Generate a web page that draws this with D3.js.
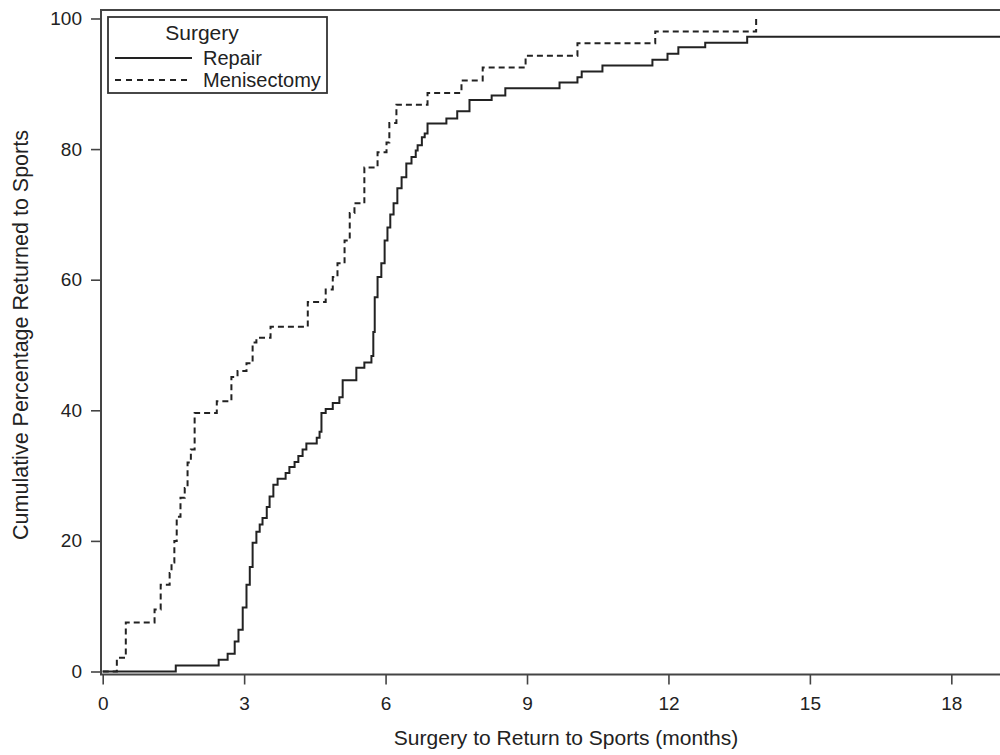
<!DOCTYPE html>
<html>
<head>
<meta charset="utf-8">
<script src="https://cdn.jsdelivr.net/npm/d3@7"></script>
<style>
  body { margin: 0; background: #fff; }
  svg { display: block; font-family: "Liberation Sans", Arial, sans-serif; }
</style>
</head>
<body>
<svg id="chart"></svg>
<script>
const width = 1000;
const height = 755;

// months after surgery, cumulative % returned (step points)
const repairMonths = [0, 1.55, 2.46, 2.65, 2.80, 2.88, 2.97, 3.05, 3.12, 3.18, 3.26, 3.33, 3.39, 3.48, 3.54, 3.62, 3.71, 3.88, 3.96, 4.07, 4.15, 4.24, 4.32, 4.54, 4.60, 4.64, 4.73, 4.88, 5.02, 5.09, 5.38, 5.55, 5.70, 5.74, 5.77, 5.83, 5.91, 5.98, 6.04, 6.10, 6.17, 6.25, 6.34, 6.44, 6.55, 6.64, 6.68, 6.77, 6.83, 6.89, 7.29, 7.52, 7.78, 8.25, 8.54, 9.69, 10.07, 10.16, 10.60, 11.66, 11.98, 12.21, 12.78, 13.67];
const repairPct = [0, 0.9, 1.8, 2.7, 4.6, 6.4, 9.8, 13.3, 16, 19.7, 21.4, 22.5, 23.5, 25.2, 26.8, 28.6, 29.5, 30.4, 31.3, 32.1, 33, 34, 34.9, 35.8, 36.7, 39.6, 40.2, 41.1, 42.0, 44.6, 46.5, 47.3, 48.3, 52, 57.3, 60.4, 62.5, 66, 68, 70, 71.7, 74, 75.7, 77.8, 78.8, 79.8, 80.6, 81.8, 82.4, 83.9, 84.7, 85.8, 87.5, 88.2, 89.3, 90.2, 91, 91.9, 92.8, 93.7, 94.6, 95.6, 96.3, 97.2];

const menMonths = [0, 0.30, 0.49, 1.10, 1.23, 1.42, 1.46, 1.52, 1.57, 1.65, 1.74, 1.80, 1.87, 1.95, 2.42, 2.73, 2.86, 3.05, 3.18, 3.26, 3.56, 4.35, 4.73, 4.88, 4.98, 5.13, 5.24, 5.34, 5.55, 5.83, 6.02, 6.08, 6.23, 6.89, 7.61, 8.06, 8.97, 10.07, 11.72, 13.86];
const menPct = [0, 2.1, 7.5, 9.5, 13.3, 15.1, 16.7, 20, 23.7, 26.6, 28.1, 32, 34, 39.6, 41.4, 45.1, 46, 47.2, 50.4, 51.1, 52.8, 56.6, 58.5, 60.4, 62.5, 66, 70.2, 71.7, 77.2, 79.5, 81, 84, 86.8, 88.6, 90.5, 92.5, 94.3, 96.2, 98.0, 100];

const xTicks = [0, 3, 6, 9, 12, 15, 18];
const yTicks = [0, 20, 40, 60, 80, 100];
const seriesNames = ["Repair", "Menisectomy"];
const legendTitle = "Surgery";
const xTitle = "Surgery to Return to Sports (months)";
const yTitle = "Cumulative Percentage Returned to Sports";

const frame = {left: 101, top: 10, right: 1031, bottom: 674.5};

const x = d3.scaleLinear().domain([-0.036, 19.69]).range([frame.left, frame.right]);
const y = d3.scaleLinear().domain([-0.46, 101.3]).range([frame.bottom, frame.top]);

const svg = d3.select("#chart")
  .attr("width", width)
  .attr("height", height)
  .attr("viewBox", [0, 0, width, height]);

const ink = "#222";

// axes
const xAxis = svg.append("g")
  .attr("transform", `translate(0,${frame.bottom})`)
  .call(d3.axisBottom(x).tickValues(xTicks).tickSize(10).tickPadding(12).tickFormat(d3.format("d")));
const yAxis = svg.append("g")
  .attr("transform", `translate(${frame.left},0)`)
  .call(d3.axisLeft(y).tickValues(yTicks).tickSize(10).tickPadding(9).tickFormat(d3.format("d")));

[xAxis, yAxis].forEach(a => {
  a.select(".domain").remove();
  a.selectAll(".tick line").attr("stroke", "#444").attr("stroke-width", 1.6);
  a.selectAll(".tick text").attr("fill", ink).style("font-size", "19px").style("font-family", "Liberation Sans, Arial, sans-serif");
});

// frame
svg.append("rect")
  .attr("x", frame.left)
  .attr("y", frame.top)
  .attr("width", frame.right - frame.left)
  .attr("height", frame.bottom - frame.top)
  .attr("fill", "none")
  .attr("stroke", "#444")
  .attr("stroke-width", 2);

// curves
const line = d3.line()
  .x(d => x(d[0]))
  .y(d => y(d[1]))
  .curve(d3.curveStepAfter);

const repairData = repairMonths.map((m, i) => [m, repairPct[i]]);
repairData.push([x.domain()[1], repairPct[repairPct.length - 1]]);
const menData = menMonths.map((m, i) => [m, menPct[i]]);

svg.append("path")
  .datum(repairData)
  .attr("d", line)
  .attr("fill", "none")
  .attr("stroke", ink)
  .attr("stroke-width", 2);

svg.append("path")
  .datum(menData)
  .attr("d", line)
  .attr("fill", "none")
  .attr("stroke", ink)
  .attr("stroke-width", 2)
  .attr("stroke-dasharray", "6,4");

// legend
const legend = svg.append("g");
legend.append("rect")
  .attr("x", 108).attr("y", 17)
  .attr("width", 219).attr("height", 76)
  .attr("fill", "#fff")
  .attr("stroke", "#333")
  .attr("stroke-width", 1.8);
legend.append("text")
  .attr("x", 202).attr("y", 40)
  .attr("text-anchor", "middle")
  .attr("fill", ink)
  .style("font-size", "21px")
  .text(legendTitle);

const items = legend.selectAll(".item")
  .data(seriesNames)
  .join("g")
  .attr("transform", (d, i) => `translate(0,${58 + i * 22})`);
items.append("line")
  .attr("x1", 115).attr("x2", 192)
  .attr("stroke", ink)
  .attr("stroke-width", 2)
  .attr("stroke-dasharray", (d, i) => i ? "6,5" : null);
items.append("text")
  .attr("x", 203).attr("y", 7)
  .attr("fill", ink)
  .style("font-size", "20px")
  .text(d => d);

// axis titles
svg.append("text")
  .attr("x", 566).attr("y", 745)
  .attr("text-anchor", "middle")
  .attr("fill", ink)
  .style("font-size", "21px")
  .text(xTitle);

svg.append("text")
  .attr("transform", "translate(28,335) rotate(-90)")
  .attr("text-anchor", "middle")
  .attr("fill", ink)
  .style("font-size", "21.5px")
  .text(yTitle);
</script>
</body>
</html>
